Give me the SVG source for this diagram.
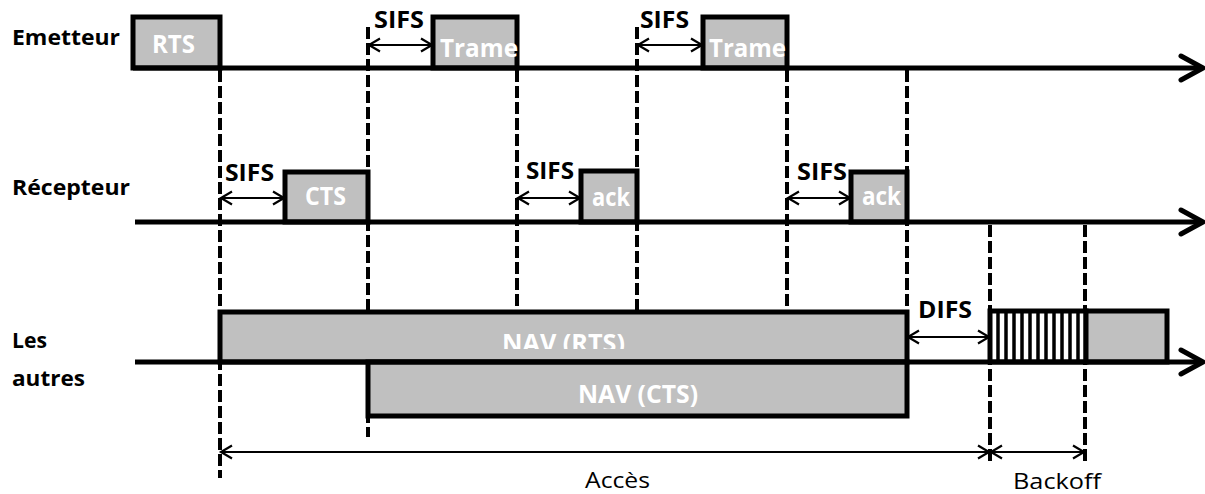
<svg xmlns="http://www.w3.org/2000/svg" width="1205" height="494" viewBox="0 0 1205 494">
<style>
.lbl{font-family:"Open Sans",Lato,"Liberation Sans",sans-serif;font-weight:bold;font-size:22px;fill:#000}
.sifs{font-family:"Open Sans",Lato,"Liberation Sans",sans-serif;font-weight:bold;font-size:23px;fill:#000}
.btx{font-family:"Open Sans",Lato,"Liberation Sans",sans-serif;font-weight:bold;font-size:25px;fill:#fff}
.reg{font-family:"Open Sans",Lato,"Liberation Sans",sans-serif;font-size:22px;fill:#000}
.box{fill:#c0c0c0;stroke:#000;stroke-width:5}
.axis{stroke:#000;stroke-width:5;fill:none}
.dash{stroke:#000;stroke-width:4;stroke-dasharray:12 4;fill:none}
.thin{stroke:#000;stroke-width:2;fill:none}
.bar{stroke:#000;stroke-width:3.5}
</style>
<defs>
<marker id="axHead" markerUnits="userSpaceOnUse" markerWidth="30" markerHeight="30" refX="21" refY="13" orient="auto" overflow="visible">
<polyline points="1,1 23,13 1,25" fill="none" stroke="#000" stroke-width="5" stroke-linecap="round" stroke-linejoin="round"/>
</marker>
<marker id="open" markerUnits="userSpaceOnUse" markerWidth="14" markerHeight="16" refX="11" refY="7" orient="auto-start-reverse" overflow="visible">
<polyline points="0,0.5 11,7 0,13.5" fill="none" stroke="#000" stroke-width="2.2"/>
</marker>
<clipPath id="navclip"><rect x="220" y="312" width="687" height="37"/></clipPath>
</defs>
<rect width="1205" height="494" fill="#fff"/>

<g id="labels">
<text class="lbl" x="12" y="45" textLength="108" lengthAdjust="spacingAndGlyphs">Emetteur</text>
<text class="lbl" x="12" y="195" textLength="118" lengthAdjust="spacingAndGlyphs">Récepteur</text>
<text class="lbl" x="12" y="348" textLength="35" lengthAdjust="spacingAndGlyphs">Les</text>
<text class="lbl" x="12" y="386" textLength="73" lengthAdjust="spacingAndGlyphs">autres</text>
</g>

<g id="connectors">
<line class="dash" x1="220" y1="70" x2="220" y2="478"/>
<line class="dash" x1="368" y1="27" x2="368" y2="437"/>
<line class="dash" x1="517" y1="70" x2="517" y2="310"/>
<line class="dash" x1="637" y1="27" x2="637" y2="312"/>
<line class="dash" x1="787" y1="70" x2="787" y2="310"/>
<line class="dash" x1="907" y1="70" x2="907" y2="312"/>
<line class="dash" x1="990" y1="225" x2="990" y2="465"/>
<line class="dash" x1="1085" y1="225" x2="1085" y2="465"/>

<line class="thin" x1="369" y1="45" x2="432" y2="45" marker-start="url(#open)" marker-end="url(#open)"/>
<line class="thin" x1="638" y1="45" x2="702" y2="45" marker-start="url(#open)" marker-end="url(#open)"/>
<line class="thin" x1="221" y1="198" x2="284" y2="198" marker-start="url(#open)" marker-end="url(#open)"/>
<line class="thin" x1="518" y1="198" x2="580" y2="198" marker-start="url(#open)" marker-end="url(#open)"/>
<line class="thin" x1="788" y1="198" x2="850" y2="198" marker-start="url(#open)" marker-end="url(#open)"/>
<line class="thin" x1="908" y1="337" x2="989" y2="337" marker-start="url(#open)" marker-end="url(#open)"/>
<line class="thin" x1="221" y1="452" x2="989" y2="452" marker-start="url(#open)" marker-end="url(#open)"/>
<line class="thin" x1="991" y1="452" x2="1084" y2="452" marker-start="url(#open)" marker-end="url(#open)"/>
</g>

<g id="sifs-labels">
<text class="sifs" x="374" y="28" textLength="50" lengthAdjust="spacingAndGlyphs">SIFS</text>
<text class="sifs" x="640" y="28" textLength="49" lengthAdjust="spacingAndGlyphs">SIFS</text>
<text class="sifs" x="225" y="181" textLength="49" lengthAdjust="spacingAndGlyphs">SIFS</text>
<text class="sifs" x="526" y="179" textLength="48" lengthAdjust="spacingAndGlyphs">SIFS</text>
<text class="sifs" x="797" y="180" textLength="50" lengthAdjust="spacingAndGlyphs">SIFS</text>
<text class="sifs" x="918" y="318" textLength="54" lengthAdjust="spacingAndGlyphs">DIFS</text>
</g>

<g id="rts">
<rect class="box" x="133" y="17" width="87" height="51"/>
<text class="btx" x="152" y="53" textLength="43" lengthAdjust="spacingAndGlyphs">RTS</text>
</g>
<g id="trame1">
<rect class="box" x="433" y="17" width="84" height="51"/>
<text class="btx" x="440" y="57" textLength="78" lengthAdjust="spacingAndGlyphs">Trame</text>
</g>
<g id="trame2">
<rect class="box" x="703" y="17" width="84" height="51"/>
<text class="btx" x="709" y="57" textLength="77" lengthAdjust="spacingAndGlyphs">Trame</text>
</g>
<g id="cts">
<rect class="box" x="285" y="172" width="83" height="50"/>
<text class="btx" x="305" y="205" textLength="41" lengthAdjust="spacingAndGlyphs">CTS</text>
</g>
<g id="ack1">
<rect class="box" x="581" y="171" width="56" height="51"/>
<text class="btx" x="592" y="206" textLength="38" lengthAdjust="spacingAndGlyphs">ack</text>
</g>
<g id="ack2">
<rect class="box" x="851" y="172" width="56" height="50"/>
<text class="btx" x="862" y="205" textLength="39" lengthAdjust="spacingAndGlyphs">ack</text>
</g>
<g id="nav-rts">
<rect class="box" x="220" y="312" width="687" height="50"/>
<text class="btx" x="502" y="352" textLength="123" lengthAdjust="spacingAndGlyphs" clip-path="url(#navclip)">NAV (RTS)</text>
</g>
<g id="nav-cts">
<rect class="box" x="368" y="362" width="539" height="54"/>
<text class="btx" x="578" y="403" textLength="120" lengthAdjust="spacingAndGlyphs">NAV (CTS)</text>
</g>
<g id="backoff-slots">
<rect x="990" y="311" width="96" height="51" fill="#fff" stroke="#000" stroke-width="5"/>
<line class="bar" x1="998" y1="312" x2="998" y2="361"/>
<line class="bar" x1="1006" y1="312" x2="1006" y2="361"/>
<line class="bar" x1="1014" y1="312" x2="1014" y2="361"/>
<line class="bar" x1="1022" y1="312" x2="1022" y2="361"/>
<line class="bar" x1="1030" y1="312" x2="1030" y2="361"/>
<line class="bar" x1="1038" y1="312" x2="1038" y2="361"/>
<line class="bar" x1="1046" y1="312" x2="1046" y2="361"/>
<line class="bar" x1="1054" y1="312" x2="1054" y2="361"/>
<line class="bar" x1="1062" y1="312" x2="1062" y2="361"/>
<line class="bar" x1="1070" y1="312" x2="1070" y2="361"/>
<line class="bar" x1="1078" y1="312" x2="1078" y2="361"/>
</g>
<g id="frame-after">
<rect class="box" x="1086" y="311" width="81" height="51"/>
</g>

<g id="axes">
<line class="axis" x1="133" y1="68" x2="1201" y2="68" marker-end="url(#axHead)"/>
<line class="axis" x1="135" y1="222" x2="1201" y2="222" marker-end="url(#axHead)"/>
<line class="axis" x1="135" y1="362" x2="1201" y2="362" marker-end="url(#axHead)"/>
</g>

<g id="bottom-labels">
<text class="reg" x="585" y="488" textLength="65" lengthAdjust="spacingAndGlyphs">Accès</text>
<text class="reg" x="1013" y="489" textLength="88" lengthAdjust="spacingAndGlyphs">Backoff</text>
</g>
</svg>
